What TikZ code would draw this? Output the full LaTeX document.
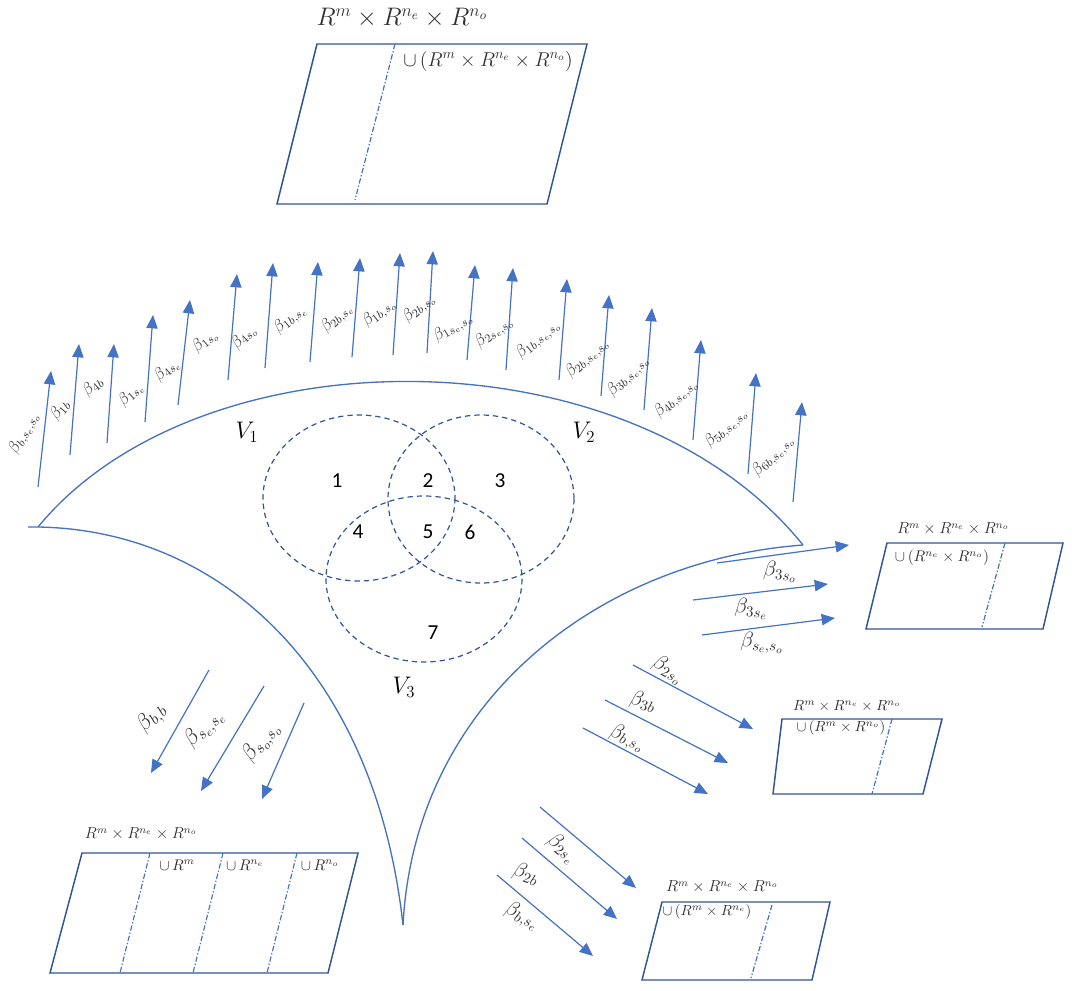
\documentclass[tikz,border=0pt]{standalone}
\usepackage{fix-cm}
\usepackage{fontspec}
\newfontfamily\carlito{Carlito}
\usetikzlibrary{arrows.meta}
\definecolor{arrblue}{HTML}{4472C4}
\definecolor{boxblue}{HTML}{2F5597}
\definecolor{vennblue}{HTML}{2F5597}
\definecolor{labgray}{HTML}{303030}
\tikzset{
  arr/.style={draw=arrblue, line width=0.9pt, -{Triangle[length=10pt,width=8.5pt]}},
  shell/.style={draw=arrblue, line width=1pt},
  pbox/.style={draw=boxblue, line width=1.1pt},
  ddot/.style={draw=arrblue, line width=0.9pt, dash pattern=on 4pt off 1.5pt on 1pt off 1.5pt},
  venn/.style={draw=vennblue, line width=0.9pt, dash pattern=on 4pt off 3pt},
  tlab/.style={font=\fontsize{12.5}{14}\selectfont, text=labgray, inner sep=0pt},
  rlab/.style={font=\fontsize{16}{18}\selectfont, text=labgray, inner sep=0pt},
  blab/.style={font=\fontsize{17}{19}\selectfont, text=labgray, inner sep=0pt},
  num/.style={font=\carlito\fontsize{16}{18}\selectfont, inner sep=0pt},
  vlab/.style={font=\fontsize{18}{20}\selectfont, inner sep=0pt},
  btitle/.style={font=\fontsize{12}{14}\selectfont, text=labgray, inner sep=0pt},
  binner/.style={font=\fontsize{11.5}{13}\selectfont, text=labgray, inner sep=0pt}
}
\begin{document}
\begin{tikzpicture}[x=0.75pt,y=-0.75pt]
\useasboundingbox (0,0) rectangle (1072,990);

% ---------- main curved triangle ----------
\coordinate (Lstub) at (28,527);
\coordinate (L) at (38,527);
\coordinate (R) at (803,545);
\coordinate (C) at (403,925);
\draw[shell] (L) .. controls (200,330) and (630,330) .. (R);
\draw[shell] (Lstub) -- (L) .. controls (220,530) and (375,670) .. (C);
\draw[shell] (C) .. controls (415,700) and (600,560) .. (R);

% ---------- Venn ellipses ----------
\draw[venn] (359,498) ellipse [x radius=96, y radius=83];
\draw[venn] (481,499) ellipse [x radius=93, y radius=84];
\draw[venn] (424,579) ellipse [x radius=98, y radius=83];
\node[num] (n1) at (337,481) {1};
\node[num] (n2) at (428,481) {2};
\node[num] (n3) at (500,481) {3};
\node[num] (n4) at (358,532) {4};
\node[num] (n5) at (428,532) {5};
\node[num] (n6) at (470,532) {6};
\node[num] (n7) at (433,633) {7};
\node[vlab] (v1) at (247,432) {$V_1$};
\node[vlab] (v2) at (584,432) {$V_2$};
\node[vlab] (v3) at (404,687) {$V_3$};

% ---------- top arrows ----------
\foreach \i/\xa/\ya/\xb/\yb in {
  1/38/487/51/371, 2/70/455/79/344, 3/107/443/114/344, 4/145/422/153/315,
  5/178/405/190/300, 6/228/380/237/274, 7/265/368/273/263, 8/310/362/318/262,
  9/352/357/360/258, 10/393/355/400/253, 11/427/353/433/251, 12/467/360/475/265,
  13/506/370/513/268, 14/559/380/567/279, 15/601/396/609/295, 16/644/410/652/308,
  17/693/440/701/340, 18/748/474/756/373, 19/793/502/802/402} {
  \coordinate (ta\i) at (\xa,\ya);
  \coordinate (th\i) at (\xb,\yb);
  \draw[arr] (ta\i) -- (th\i);
}
\node[tlab, rotate=62] (lt1) at (24,433) {$\beta_{b,s_e,s_o}$};
\node[tlab, rotate=50] (lt2) at (60,410) {$\beta_{1b}$};
\node[tlab, rotate=40] (lt3) at (93,386) {$\beta_{4b}$};
\node[tlab, rotate=42] (lt4) at (131,394) {$\beta_{1s_e}$};
\node[tlab, rotate=40] (lt5) at (167,370) {$\beta_{4s_e}$};
\node[tlab, rotate=40] (lt6) at (205,341) {$\beta_{1s_o}$};
\node[tlab, rotate=45] (lt7) at (244,337) {$\beta_{4s_o}$};
\node[tlab, rotate=40] (lt8) at (290,319) {$\beta_{1b,s_e}$};
\node[tlab, rotate=43] (lt9) at (337,318) {$\beta_{2b,s_e}$};
\node[tlab, rotate=38] (lt10) at (379,313) {$\beta_{1b,s_o}$};
\node[tlab, rotate=40] (lt11) at (419,308) {$\beta_{2b,s_o}$};
\node[tlab, rotate=32] (lt12) at (453,327) {$\beta_{1s_e,s_o}$};
\node[tlab, rotate=37] (lt13) at (494,332) {$\beta_{2s_e,s_o}$};
\node[tlab, rotate=40] (lt14) at (538,339) {$\beta_{1b,s_e,s_o}$};
\node[tlab, rotate=42] (lt15) at (587,358) {$\beta_{2b,s_e,s_o}$};
\node[tlab, rotate=45] (lt16) at (628,376) {$\beta_{3b,s_e,s_o}$};
\node[tlab, rotate=41] (lt17) at (676,398) {$\beta_{4b,s_e,s_o}$};
\node[tlab, rotate=43] (lt18) at (726,428) {$\beta_{5b,s_e,s_o}$};
\node[tlab, rotate=45] (lt19) at (773,456) {$\beta_{6b,s_e,s_o}$};

% ---------- top box ----------
\coordinate (A1) at (317,44); \coordinate (A2) at (587,44);
\coordinate (A3) at (547,204); \coordinate (A4) at (277,204);
\draw[pbox] (A1) -- (A2) -- (A3) -- (A4) -- cycle;
\coordinate (Ad1) at (395,44); \coordinate (Ad2) at (355,200);
\draw[ddot] (Ad1) -- (Ad2);
\node[font=\fontsize{19}{21}\selectfont, text=labgray, inner sep=0pt] (Atitle) at (402,18) {$R^m\times R^{n_e}\times R^{n_o}$};
\node[font=\fontsize{15}{17}\selectfont, text=labgray, inner sep=0pt] (Ain) at (488,61) {$\cup\,(R^m\times R^{n_e}\times R^{n_o})$};

% ---------- right box 1 ----------
\coordinate (B1) at (887,543); \coordinate (B2) at (1063,543);
\coordinate (B3) at (1043,629); \coordinate (B4) at (866,629);
\draw[pbox] (B1) -- (B2) -- (B3) -- (B4) -- cycle;
\coordinate (Bd1) at (1005,543); \coordinate (Bd2) at (982,627);
\draw[ddot] (Bd1) -- (Bd2);
\node[btitle] (Btitle) at (953,529) {$R^m\times R^{n_e}\times R^{n_o}$};
\node[binner] (Bin) at (942,558) {$\cup\,(R^{n_e}\times R^{n_o})$};
\coordinate (ba1) at (717,563); \coordinate (bh1) at (849,545);
\coordinate (ba2) at (693,600); \coordinate (bh2) at (828,584);
\coordinate (ba3) at (702,635); \coordinate (bh3) at (835,618);
\draw[arr] (ba1) -- (bh1);
\draw[arr] (ba2) -- (bh2);
\draw[arr] (ba3) -- (bh3);
\node[rlab, rotate=-3] (lb1) at (780,572) {$\beta_{3s_o}$};
\node[rlab, rotate=-3] (lb2) at (751,609) {$\beta_{3s_e}$};
\node[rlab, rotate=-3] (lb3) at (762,643) {$\beta_{s_e,s_o}$};

% ---------- right box 2 ----------
\coordinate (D1) at (782,719); \coordinate (D2) at (942,719);
\coordinate (D3) at (923,794); \coordinate (D4) at (773,794);
\draw[pbox] (D1) -- (D2) -- (D3) -- (D4) -- cycle;
\coordinate (Dd1) at (892,719); \coordinate (Dd2) at (872,794);
\draw[ddot] (Dd1) -- (Dd2);
\node[btitle, font=\fontsize{11}{13}\selectfont] (Dtitle) at (847,706) {$R^m\times R^{n_e}\times R^{n_o}$};
\node[binner, font=\fontsize{11}{13}\selectfont] (Din) at (841,728) {$\cup\,(R^m\times R^{n_o})$};
\coordinate (da1) at (633,665); \coordinate (dh1) at (753,729);
\coordinate (da2) at (605,700); \coordinate (dh2) at (728,763);
\coordinate (da3) at (583,728); \coordinate (dh3) at (708,794);
\draw[arr] (da1) -- (dh1);
\draw[arr] (da2) -- (dh2);
\draw[arr] (da3) -- (dh3);
\node[rlab, rotate=-30] (ld1) at (668,670) {$\beta_{2s_o}$};
\node[rlab, rotate=-15] (ld2) at (643,702) {$\beta_{3b}$};
\node[rlab, rotate=-22] (ld3) at (627,738) {$\beta_{b,s_o}$};

% ---------- right box 3 ----------
\coordinate (E1) at (662,902); \coordinate (E2) at (830,902);
\coordinate (E3) at (812,980); \coordinate (E4) at (642,980);
\draw[pbox] (E1) -- (E2) -- (E3) -- (E4) -- cycle;
\coordinate (Ed1) at (772,905); \coordinate (Ed2) at (751,978);
\draw[ddot] (Ed1) -- (Ed2);
\node[btitle] (Etitle) at (722,887) {$R^m\times R^{n_e}\times R^{n_o}$};
\node[binner, font=\fontsize{11}{13}\selectfont] (Ein) at (707,912) {$\cup\,(R^m\times R^{n_e})$};
\coordinate (ea1) at (540,807); \coordinate (eh1) at (636,888);
\coordinate (ea2) at (522,838); \coordinate (eh2) at (617,919);
\coordinate (ea3) at (497,875); \coordinate (eh3) at (593,956);
\draw[arr] (ea1) -- (eh1);
\draw[arr] (ea2) -- (eh2);
\draw[arr] (ea3) -- (eh3);
\node[rlab, rotate=-40] (le1) at (562,848) {$\beta_{2s_e}$};
\node[rlab, rotate=-20] (le2) at (526,874) {$\beta_{2b}$};
\node[rlab, rotate=-25] (le3) at (522,916) {$\beta_{b,s_e}$};

% ---------- bottom-left box ----------
\coordinate (F1) at (82,853); \coordinate (F2) at (358,853);
\coordinate (F3) at (328,973); \coordinate (F4) at (50,973);
\draw[pbox] (F1) -- (F2) -- (F3) -- (F4) -- cycle;
\coordinate (Fd1) at (150,853); \coordinate (Fd2) at (120,973);
\coordinate (Fd3) at (223,853); \coordinate (Fd4) at (193,973);
\coordinate (Fd5) at (297,853); \coordinate (Fd6) at (267,973);
\draw[ddot] (Fd1) -- (Fd2);
\draw[ddot] (Fd3) -- (Fd4);
\draw[ddot] (Fd5) -- (Fd6);
\node[btitle] (Ftitle) at (141,834) {$R^m\times R^{n_e}\times R^{n_o}$};
\node[binner] (Fin1) at (177,865) {$\cup\, R^m$};
\node[binner] (Fin2) at (245,865) {$\cup\, R^{n_e}$};
\node[binner] (Fin3) at (320,865) {$\cup\, R^{n_o}$};
\coordinate (fa1) at (209,670); \coordinate (fh1) at (151,773);
\coordinate (fa2) at (264,686); \coordinate (fh2) at (201,791);
\coordinate (fa3) at (304,703); \coordinate (fh3) at (262,799);
\draw[arr] (fa1) -- (fh1);
\draw[arr] (fa2) -- (fh2);
\draw[arr] (fa3) -- (fh3);
\node[blab, rotate=45] (lf1) at (152,718) {$\beta_{b,b}$};
\node[blab, rotate=45] (lf2) at (204,728) {$\beta_{s_e,s_e}$};
\node[blab, rotate=52] (lf3) at (261,742) {$\beta_{s_o,s_o}$};
\end{tikzpicture}
\end{document}
